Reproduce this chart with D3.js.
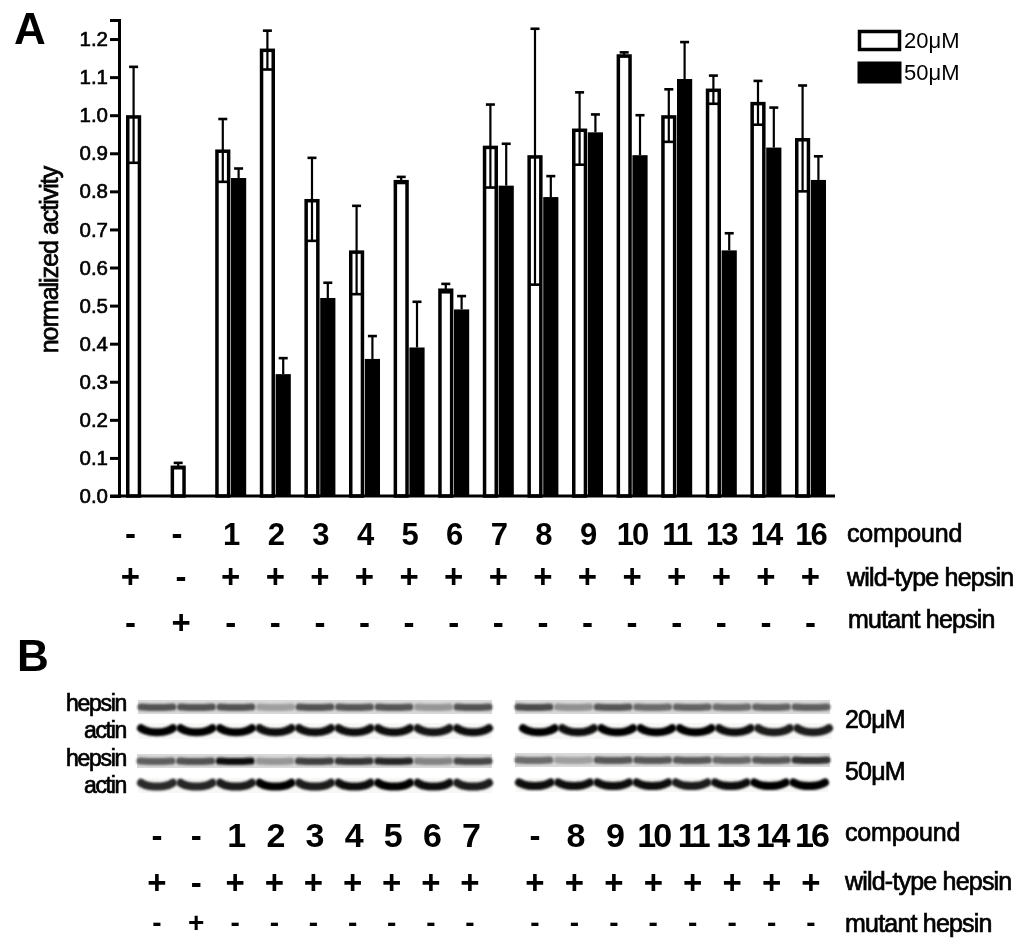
<!DOCTYPE html>
<html>
<head>
<meta charset="utf-8">
<script src="https://cdnjs.cloudflare.com/ajax/libs/d3/7.8.5/d3.min.js"></script>
<style>
    html, body { margin: 0; padding: 0; background: #fff; }
    svg { display: block; filter: blur(0.4px); }
    text { font-family: "Liberation Sans", Arial, sans-serif; fill: #000; }
    .row { font-size: 25px; letter-spacing: -0.8px; stroke: #000; stroke-width: 0.7px; }
    .tight { letter-spacing: -0.2px; }
    .num { font-size: 31px; font-weight: bold; text-anchor: middle; letter-spacing: -2px; }
    .num.tall { font-size: 34px; letter-spacing: -3px; }
    .sym { font-size: 33px; font-weight: bold; text-anchor: middle; }
    .sym.low { font-size: 28px; }
    .blot { font-size: 23px; letter-spacing: -1.3px; text-anchor: end; stroke: #000; stroke-width: 0.7px; }
</style>
</head>
<body>
<svg id="chart" width="1016" height="938"></svg>
<script>
// panel A data
var categories = ["ctrl", "mut", "1", "2", "3", "4", "5", "6", "7", "8", "9", "10", "11", "13", "14", "16"];
var doses = ["20", "50"];
var mean20 = [1.00, 0.08, 0.91, 1.175, 0.78, 0.645, 0.83, 0.545, 0.92, 0.895, 0.965, 1.16, 1.00, 1.07, 1.035, 0.94];
var high20 = [1.127, 0.087, 0.99, 1.222, 0.888, 0.762, 0.838, 0.557, 1.028, 1.227, 1.06, 1.165, 1.068, 1.104, 1.09, 1.078];
var low20 = [0.875, 0.073, 0.825, 1.12, 0.67, 0.53, 0.822, 0.535, 0.81, 0.555, 0.87, 1.155, 0.93, 1.03, 0.975, 0.80];
var mean50 = [null, null, 0.835, 0.32, 0.52, 0.36, 0.39, 0.49, 0.815, 0.785, 0.955, 0.895, 1.095, 0.645, 0.915, 0.83];
var high50 = [null, null, 0.86, 0.362, 0.56, 0.42, 0.51, 0.525, 0.925, 0.84, 1.002, 1.00, 1.192, 0.69, 1.02, 0.892];
var yTicks = [0, 0.1, 0.2, 0.3, 0.4, 0.5, 0.6, 0.7, 0.8, 0.9, 1.0, 1.1, 1.2];

// label rows under panel A
var compoundA = ["-", "-", "1", "2", "3", "4", "5", "6", "7", "8", "9", "10", "11", "13", "14", "16"];
var wildA = ["+", "-", "+", "+", "+", "+", "+", "+", "+", "+", "+", "+", "+", "+", "+", "+"];
var mutantA = ["-", "+", "-", "-", "-", "-", "-", "-", "-", "-", "-", "-", "-", "-", "-", "-"];

// panel B lanes and band darkness (0 - 1)
var lanesLeft = ["-a", "-b", "1", "2", "3", "4", "5", "6", "7"];
var lanesRight = ["-", "8", "9", "10", "11", "13", "14", "16"];
var hepsin20Left = [0.62, 0.62, 0.62, 0.2, 0.62, 0.6, 0.6, 0.25, 0.62];
var actin20Left = [1.0, 0.95, 0.95, 0.92, 0.92, 0.9, 0.85, 0.82, 0.85];
var hepsin50Left = [0.55, 0.62, 0.98, 0.25, 0.72, 0.78, 0.85, 0.35, 0.68];
var actin50Left = [0.6, 0.65, 0.75, 0.95, 0.75, 0.85, 0.95, 0.85, 0.75];
var hepsin20Right = [0.65, 0.28, 0.6, 0.48, 0.52, 0.48, 0.52, 0.55];
var actin20Right = [0.98, 0.92, 0.95, 0.95, 0.95, 0.85, 0.75, 0.75];
var hepsin50Right = [0.48, 0.2, 0.58, 0.58, 0.58, 0.5, 0.58, 0.8];
var actin50Right = [0.92, 0.88, 0.88, 0.88, 0.72, 0.88, 1.0, 1.0];

// label rows under panel B
var compoundB = ["-", "-", "1", "2", "3", "4", "5", "6", "7", "-", "8", "9", "10", "11", "13", "14", "16"];
var wildB = ["+", "-", "+", "+", "+", "+", "+", "+", "+", "+", "+", "+", "+", "+", "+", "+", "+"];
var mutantB = ["-", "+", "-", "-", "-", "-", "-", "-", "-", "-", "-", "-", "-", "-", "-", "-", "-"];

var svg = d3.select("#chart");

var x = d3.scaleBand().domain(categories).range([126, 126 + 16 * 44.6]);
var xDose = d3.scaleBand().domain(doses).range([0, 31]).paddingInner(0.04);
var y = d3.scaleLinear().domain([0, 1.25]).range([496, 20]);
var barW = xDose.bandwidth();

var rowsA = categories.map(function (c, i) {
    return { c: c, mean20: mean20[i], high20: high20[i], low20: low20[i], mean50: mean50[i], high50: high50[i] };
});

// white bars
svg.append("g").selectAll("rect")
    .data(rowsA)
    .enter().append("rect")
    .attr("x", function (d) { return x(d.c) + xDose("20") + 1.75; })
    .attr("y", function (d) { return y(d.mean20) + 1.75; })
    .attr("width", barW - 3.5)
    .attr("height", function (d) { return y(0) - y(d.mean20) - 1.75; })
    .attr("fill", "#fff")
    .attr("stroke", "#000")
    .attr("stroke-width", 3.5);

// black bars
var rows50 = rowsA.filter(function (d) { return d.mean50 !== null; });
svg.append("g").selectAll("rect")
    .data(rows50)
    .enter().append("rect")
    .attr("x", function (d) { return x(d.c) + xDose("50"); })
    .attr("y", function (d) { return y(d.mean50); })
    .attr("width", barW)
    .attr("height", function (d) { return y(0) - y(d.mean50); })
    .attr("fill", "#000");

// error bars, white bars show both whiskers
var err = svg.append("g").attr("stroke", "#000");
rowsA.forEach(function (d) {
    var cx = x(d.c) + xDose("20") + barW / 2;
    err.append("line").attr("x1", cx).attr("x2", cx)
        .attr("y1", y(d.high20)).attr("y2", y(d.low20)).attr("stroke-width", 2.2);
    err.append("line").attr("x1", cx - 4.5).attr("x2", cx + 4.5)
        .attr("y1", y(d.high20)).attr("y2", y(d.high20)).attr("stroke-width", 2.6);
    err.append("line").attr("x1", cx - 6).attr("x2", cx + 6)
        .attr("y1", y(d.low20)).attr("y2", y(d.low20)).attr("stroke-width", 2.6);
    if (d.mean50 !== null) {
        var cx2 = x(d.c) + xDose("50") + barW / 2;
        err.append("line").attr("x1", cx2).attr("x2", cx2)
            .attr("y1", y(d.high50)).attr("y2", y(d.mean50)).attr("stroke-width", 2.2);
        err.append("line").attr("x1", cx2 - 4.5).attr("x2", cx2 + 4.5)
            .attr("y1", y(d.high50)).attr("y2", y(d.high50)).attr("stroke-width", 2.6);
    }
});

// axes
var yAxis = svg.append("g")
    .attr("transform", "translate(119,0)")
    .call(d3.axisLeft(y).tickValues(yTicks).tickSize(9).tickPadding(2).tickFormat(d3.format(".1f")));
yAxis.selectAll("path,line").attr("stroke", "#000").attr("stroke-width", 3);
yAxis.selectAll("text")
    .style("font-family", '"Liberation Sans", Arial, sans-serif')
    .style("font-size", "20.5px")
    .attr("stroke", "#000")
    .attr("stroke-width", 0.6);

svg.append("g")
    .attr("transform", "translate(0," + y(0) + ")")
    .call(function (g) {
        g.call(d3.axisBottom(x).tickSize(0).tickFormat(""));
        g.select(".domain").attr("d", "M110,0H835").attr("stroke", "#000").attr("stroke-width", 3);
    });

svg.append("text")
    .attr("transform", "translate(58,260) rotate(-90)")
    .attr("class", "row")
    .style("text-anchor", "middle")
    .style("letter-spacing", "-1px")
    .text("normalized activity");

// panel letters
svg.append("text").attr("x", 14).attr("y", 44).style("font-size", "44px").style("font-weight", "bold").text("A");
svg.append("text").attr("x", 17).attr("y", 671).style("font-size", "44px").style("font-weight", "bold").text("B");

// legend
var legend = svg.append("g");
legend.append("rect").attr("x", 859.5).attr("y", 31.5).attr("width", 40).attr("height", 18)
    .attr("fill", "#fff").attr("stroke", "#000").attr("stroke-width", 3.5);
legend.append("rect").attr("x", 857.5).attr("y", 61.5).attr("width", 44).attr("height", 22).attr("fill", "#000");
legend.append("text").attr("x", 904).attr("y", 48).style("font-size", "22px").text("20μM");
legend.append("text").attr("x", 904).attr("y", 80).style("font-size", "22px").text("50μM");

// label rows under panel A follow the band scale, the two controls sit further left
function centreA(i, shift) {
    return x(categories[i]) + 15.5 + (i < 2 ? shift[i] : 0);
}
function labelRow(values, px, py, cls, symCls) {
    svg.append("g").selectAll("text")
        .data(values)
        .enter().append("text")
        .attr("class", function (d) { return (d === "+" || d === "-") ? (symCls || "sym") : cls; })
        .attr("x", function (d, i) { return px(i); })
        .attr("y", py)
        .text(function (d) { return d; });
}
labelRow(compoundA, function (i) { return centreA(i, [-11, -9]); }, 545, "num");
labelRow(wildA, function (i) { return centreA(i, [-11, -5]); }, 588, "num");
labelRow(mutantA, function (i) { return centreA(i, [-11, -5]); }, 634, "num");

svg.append("text").attr("class", "row tight").attr("x", 847).attr("y", 542).text("compound");
svg.append("text").attr("class", "row").attr("x", 847).attr("y", 586).text("wild-type hepsin");
svg.append("text").attr("class", "row").attr("x", 848).attr("y", 628).text("mutant hepsin");

// blots
var defs = svg.append("defs");
defs.append("filter").attr("id", "soft").attr("filterUnits", "userSpaceOnUse")
    .attr("x", 0).attr("y", 0).attr("width", 1016).attr("height", 938)
    .append("feGaussianBlur").attr("stdDeviation", 1);

var hepsinShade = d3.scaleLinear().domain([0, 1]).range(["#c4c4c4", "#0c0c0c"]);
var actinShade = d3.scaleLinear().domain([0, 1]).range(["#6a6a6a", "#000000"]);
var bandLine = d3.line().curve(d3.curveBasis);

function drawStrip(lanes, values, x0, x1, top, bottom, kind) {
    var lane = d3.scaleBand().domain(lanes).range([x0, x1]).paddingInner(0.04);
    var g = svg.append("g");
    var strip = d3.scaleLinear().domain([0, 1]).range([top, bottom]);
    g.append("rect")
        .attr("x", x0).attr("y", top).attr("width", x1 - x0).attr("height", bottom - top)
        .attr("fill", kind === "hepsin" ? "#d9d9d9" : "#f7f7f5");
    g.selectAll("path")
        .data(lanes)
        .enter().append("path")
        .attr("d", function (d) {
            var a = lane(d), w = lane.bandwidth();
            // actin bands smile upward at both ends, hepsin bands stay flat
            var bow = kind === "hepsin" ? 0.5 : 0.32;
            return bandLine([
                [a + 3, strip(bow)],
                [a + w * 0.25, strip(kind === "hepsin" ? 0.54 : 0.58)],
                [a + w * 0.75, strip(kind === "hepsin" ? 0.54 : 0.58)],
                [a + w - 3, strip(bow)]
            ]);
        })
        .attr("fill", "none")
        .attr("stroke-linecap", "round")
        .attr("stroke-width", kind === "hepsin" ? 7 : 8)
        .attr("stroke", function (d, i) {
            return kind === "hepsin" ? hepsinShade(values[i]) : actinShade(values[i]);
        })
        .attr("filter", "url(#soft)");
}

drawStrip(lanesLeft, hepsin20Left, 138, 492, 700, 714, "hepsin");
drawStrip(lanesLeft, actin20Left, 138, 492, 723, 739, "actin");
drawStrip(lanesLeft, hepsin50Left, 137, 492, 754, 768, "hepsin");
drawStrip(lanesLeft, actin50Left, 138, 492, 778, 793, "actin");
drawStrip(lanesRight, hepsin20Right, 515, 830, 700, 714, "hepsin");
drawStrip(lanesRight, actin20Right, 520, 832, 723, 739, "actin");
drawStrip(lanesRight, hepsin50Right, 515, 830, 753, 767, "hepsin");
drawStrip(lanesRight, actin50Right, 516, 828, 778, 792, "actin");

svg.append("text").attr("class", "blot").attr("x", 126).attr("y", 711).text("hepsin");
svg.append("text").attr("class", "blot").attr("x", 126).attr("y", 738).text("actin");
svg.append("text").attr("class", "blot").attr("x", 126).attr("y", 766).text("hepsin");
svg.append("text").attr("class", "blot").attr("x", 126).attr("y", 793).text("actin");
svg.append("text").attr("class", "row").attr("x", 845).attr("y", 728).text("20μM");
svg.append("text").attr("class", "row").attr("x", 845).attr("y", 780).text("50μM");

// label rows under panel B
var xB = d3.scalePoint().domain(d3.range(9)).range([157, 470]);
var xB2 = d3.scalePoint().domain(d3.range(8)).range([535, 811]);
function centreB(i) { return i < 9 ? xB(i) : xB2(i - 9); }
labelRow(compoundB, centreB, 847, "num tall");
labelRow(wildB, centreB, 894, "num");
labelRow(mutantB, centreB, 932, "num", "sym low");

svg.append("text").attr("class", "row tight").attr("x", 845).attr("y", 841).text("compound");
svg.append("text").attr("class", "row").attr("x", 845).attr("y", 890).text("wild-type hepsin");
svg.append("text").attr("class", "row").attr("x", 845).attr("y", 932).text("mutant hepsin");
</script>
</body>
</html>
